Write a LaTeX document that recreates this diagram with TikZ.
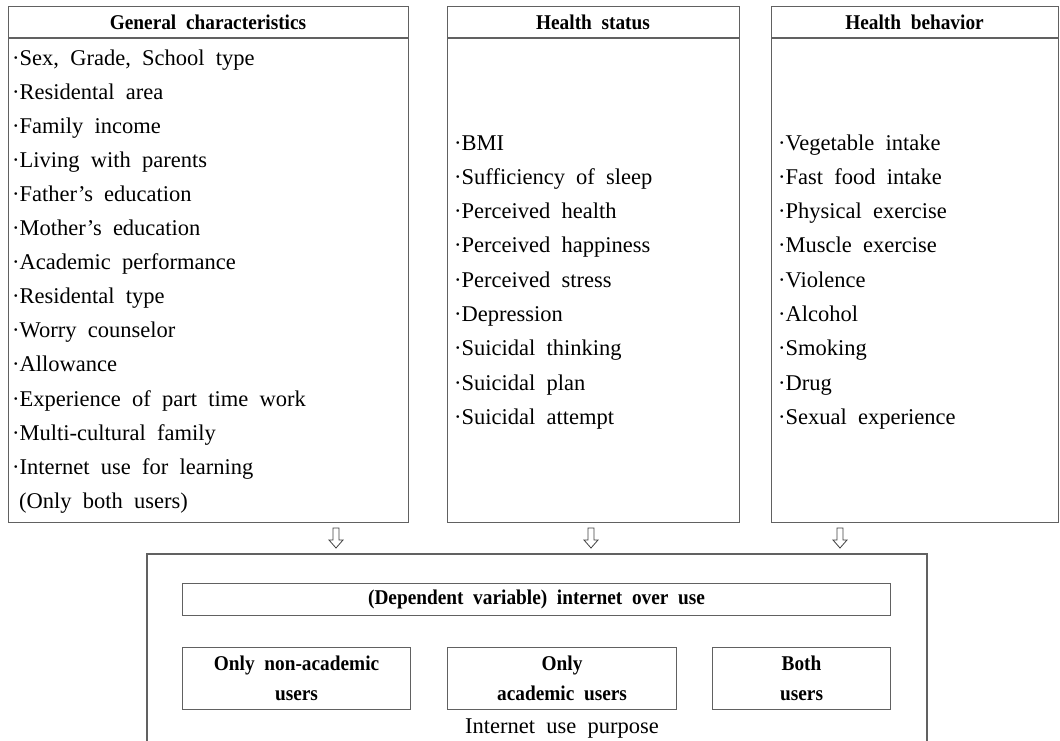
\documentclass[tikz,border=0pt]{standalone}
\usepackage{fontspec}
\setmainfont{Liberation Serif}[WordSpace=2.0]
\newfontfamily\hdfont{Liberation Serif}[WordSpace=2.0, FakeStretch=0.92]
\begin{document}
\begin{tikzpicture}[x=1pt,y=-1pt,
  frame/.style={draw=black!62, line width=1.4pt},
  thinframe/.style={draw=black!62, line width=1.1pt},
  hd/.style={font=\hdfont\fontsize{21}{24}\selectfont\bfseries, anchor=center, inner sep=0pt},
  item/.style={font=\fontsize{22.5}{26}\selectfont, anchor=west, inner sep=0pt, text height=15pt, text depth=5pt},
  bx/.style={thinframe, font=\hdfont\fontsize{21}{30}\selectfont\bfseries, align=center, inner sep=0pt},
  hollow/.style={draw=black!75, line width=0.8pt, fill=white}
]
\useasboundingbox (0,0) rectangle (1060,740);
% top boxes
\node[frame, minimum width=400, minimum height=516, anchor=north west, inner sep=0pt] (gen) at (8,6) {};
\node[frame, minimum width=292, minimum height=516, anchor=north west, inner sep=0pt] (hs) at (447,6) {};
\node[frame, minimum width=287, minimum height=516, anchor=north west, inner sep=0pt] (hb) at (771,6) {};
\draw[frame] (gen.west |- 0,38) -- (gen.east |- 0,38);
\draw[frame] (hs.west |- 0,38) -- (hs.east |- 0,38);
\draw[frame] (hb.west |- 0,38) -- (hb.east |- 0,38);
\node[hd] (genh) at (208,22.5) {General characteristics};
\node[hd] (hsh) at (593,22.5) {Health status};
\node[hd] (hbh) at (914.5,22.5) {Health behavior};
% left items
\foreach \t [count=\i from 0] in {Sex{,} Grade{,} School type, Residental area, Family income, Living with parents, Father’s education, Mother’s education, Academic performance, Residental type, Worry counselor, Allowance, Experience of part time work, Multi-cultural family, Internet use for learning}
  \node[item] (gi\i) at (12,{60+34.1*\i}) {·\t};
\node[item] (gi13) at (19,{60+34.1*13}) {(Only both users)};
\foreach \t [count=\i from 0] in {BMI, Sufficiency of sleep, Perceived health, Perceived happiness, Perceived stress, Depression, Suicidal thinking, Suicidal plan, Suicidal attempt}
  \node[item] (si\i) at (454,{145+34.3*\i}) {·\t};
\foreach \t [count=\i from 0] in {Vegetable intake, Fast food intake, Physical exercise, Muscle exercise, Violence, Alcohol, Smoking, Drug, Sexual experience}
  \node[item] (bi\i) at (778,{145+34.3*\i}) {·\t};
% hollow arrows
\foreach \x/\n in {336/a1, 591/a2, 840/a3} {
  \coordinate (\n) at (\x,528);
  \draw[hollow] (\x-3,528) -- (\x+3,528) -- (\x+3,540) -- (\x+7,540) -- (\x,548) -- (\x-7,540) -- (\x-3,540) -- cycle;
}
% outer bottom box (open at bottom)
\coordinate (o1) at (147,745);
\coordinate (o2) at (147,554);
\coordinate (o3) at (927,554);
\coordinate (o4) at (927,745);
\draw[frame] (o1) -- (o2) -- (o3) -- (o4);
\node[bx, minimum width=708, minimum height=32, anchor=north west] (dep) at (182,583) {(Dependent variable) internet over use};
\node[bx, minimum width=228, minimum height=62, anchor=north west] (u1) at (182,647) {Only non-academic\\users};
\node[bx, minimum width=229, minimum height=62, anchor=north west] (u2) at (447,647) {Only\\academic users};
\node[bx, minimum width=178, minimum height=62, anchor=north west] (u3) at (712,647) {Both\\users};
\node[item, anchor=center] (purp) at (562,728) {Internet use purpose};
\end{tikzpicture}
\end{document}
